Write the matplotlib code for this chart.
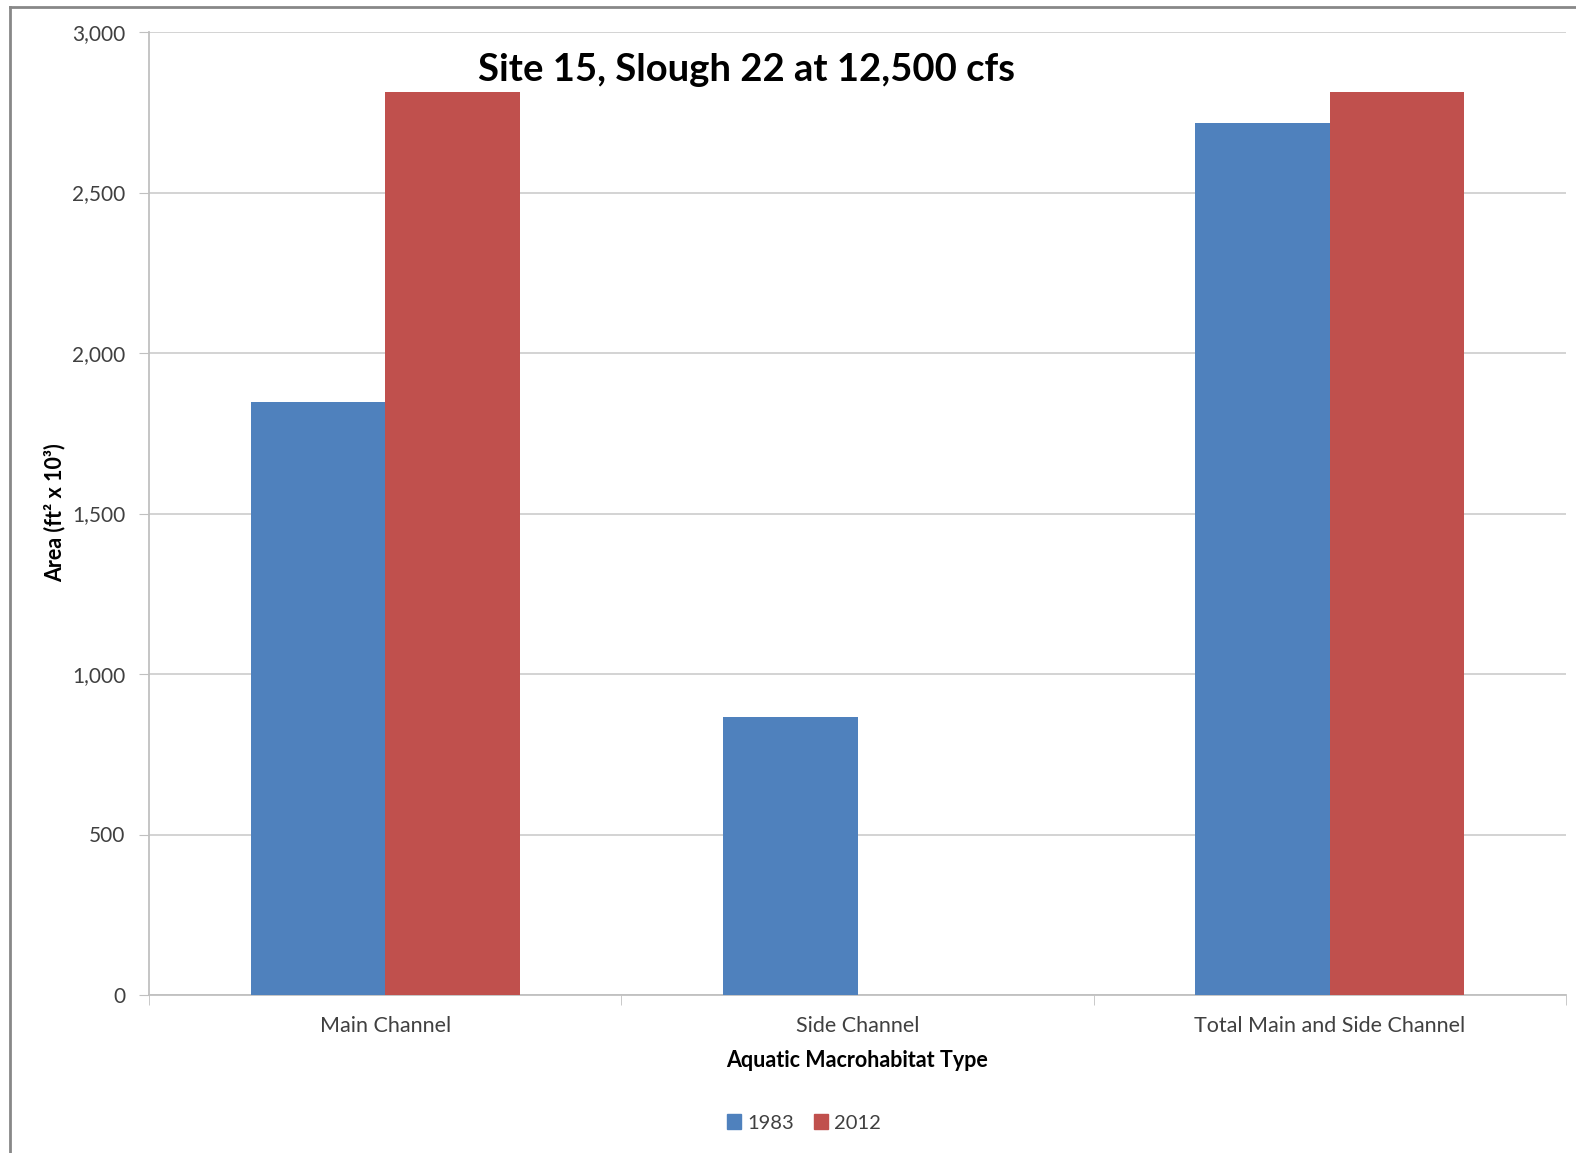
import matplotlib
matplotlib.use('Agg')
import numpy as np
from matplotlib import pyplot as plt
from matplotlib.lines import Line2D
from matplotlib.patches import Patch

categories = ['Main Channel', 'Side Channel', 'Total Main and Side Channel']
years = ['1983', '2012']
area_1983 = [1848, 867, 2715]
area_2012 = [2812, 0, 2812]
y_ticks = [0, 500, 1000, 1500, 2000, 2500, 3000]

blue = '#4f81bd'
red = '#c0504d'
text_gray = '#404040'
grid_gray = '#d0d0d0'

plt.rcParams['font.family'] = ['Lato', 'DejaVu Sans']

W, H = 1576, 1153
fig = plt.figure(figsize=(W / 100, H / 100), dpi=100)
ax = fig.add_axes([149 / W, 1 - 995 / H, (1566 - 149) / W, (995 - 32) / H])

x = np.arange(len(categories))
w = 0.285
ax.bar(x - w / 2, area_1983, w, color=blue, label=years[0], zorder=3, linewidth=0)
ax.bar(x + w / 2, area_2012, w, color=red, label=years[1], zorder=3, linewidth=0)

ax.set_xlim(-0.5, len(categories) - 0.5)
ax.set_ylim(0, 3000)
ax.set_yticks(y_ticks)
ax.set_yticklabels([f'{v:,}' for v in y_ticks], color=text_gray, fontsize=15)
ax.set_xticks(x)
ax.set_xticklabels(categories, color=text_gray, fontsize=15.5)
ax.set_xticks(np.arange(-0.5, len(categories)), minor=True)
ax.tick_params(axis='x', which='major', length=0, pad=15)
ax.tick_params(axis='x', which='minor', length=7, color='#c0c0c0', direction='out')
ax.tick_params(axis='y', length=7, color='#c0c0c0', pad=10)

ax.grid(axis='y', color=grid_gray, linewidth=1.3, zorder=0)
for s in ['top', 'right']:
    ax.spines[s].set_visible(False)
for s in ['left', 'bottom']:
    ax.spines[s].set_color('#c0c0c0')
    ax.spines[s].set_linewidth(1.3)

ax.text(0.422, 0.961, 'Site 15, Slough 22 at 12,500 cfs', transform=ax.transAxes,
        ha='center', va='center', fontsize=27.5, fontweight='bold', color='black')

ax.set_xlabel('Aquatic Macrohabitat Type', fontsize=15.5, fontweight='bold', color='black', labelpad=10)
fig.text(55 / W, 1 - 513 / H, 'Area (ft² x 10³)', rotation=90, ha='center', va='center',
         fontsize=15.5, fontweight='bold', color='black')

handles = [Patch(color=blue), Patch(color=red)]
fig.legend(handles, years, loc='center', bbox_to_anchor=(804 / W, 1 - 1123 / H),
           ncol=2, frameon=False, fontsize=14.5, handlelength=0.7, handleheight=0.7,
           handletextpad=0.3, columnspacing=1.0, labelcolor=text_gray)

# outer chart border (left and top edges visible)
fig.add_artist(Line2D([10 / W, 10 / W], [0, 1 - 7 / H], transform=fig.transFigure,
                      color='#888888', linewidth=2))
fig.add_artist(Line2D([10 / W, 1], [1 - 7 / H, 1 - 7 / H], transform=fig.transFigure,
                      color='#888888', linewidth=2))

fig.savefig('out.png', dpi=100)
